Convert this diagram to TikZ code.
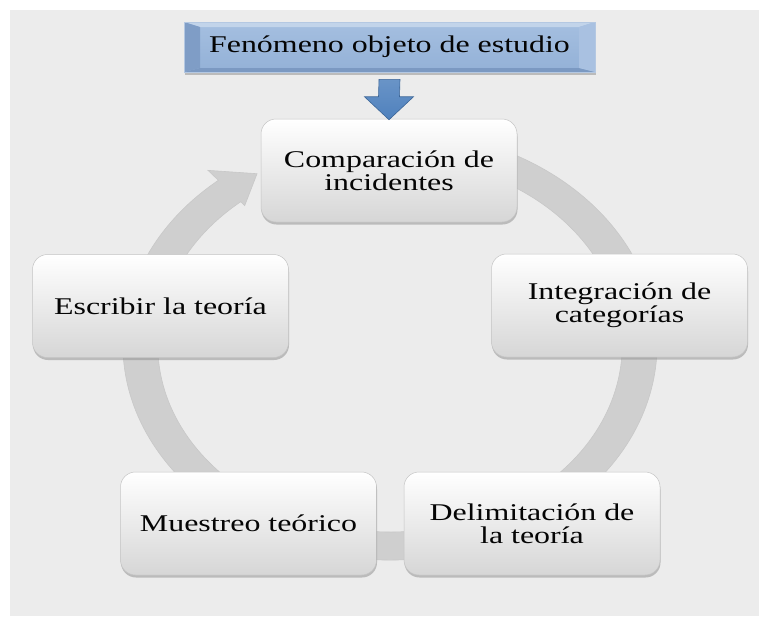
\documentclass[tikz,border=0pt]{standalone}
\usepackage{fontspec}
\setmainfont{Liberation Serif}[FakeStretch=1.33]
\usetikzlibrary{shadows,calc}
\definecolor{bg}{HTML}{ECECEC}
\definecolor{ringc}{HTML}{CFCFCF}
\definecolor{ringedge}{HTML}{C8C8C8}
\definecolor{boxbot}{HTML}{D6D6D6}
\definecolor{boxline}{HTML}{C4C4C4}
\definecolor{txt}{HTML}{050505}
\definecolor{facetop}{HTML}{A5BFE0}
\definecolor{facebot}{HTML}{93B1D7}
\definecolor{bevleft}{HTML}{7F9DC6}
\definecolor{bevright}{HTML}{A9C1E1}
\definecolor{bevtop}{HTML}{C2D4EA}
\definecolor{bevbot}{HTML}{7B99C2}
\definecolor{blueedge}{HTML}{B4C8E2}
\definecolor{arrowf}{HTML}{4F81BD}
\definecolor{arrowd}{HTML}{3B6597}
\tikzset{
  stagebox/.style={rounded corners=15pt, minimum width=256pt, minimum height=103pt,
    top color=white, bottom color=boxbot, draw=boxline, line width=0.5pt,
    align=center, font=\fontsize{24}{23}\selectfont, text=txt, inner sep=0pt,
    drop shadow={shadow xshift=0.5pt, shadow yshift=-2.5pt, opacity=0.5, fill=gray!90}},
  bevelbox/.style={minimum width=411pt, minimum height=50pt, inner sep=0pt,
    top color=facetop, bottom color=facebot, draw=blueedge, line width=0.6pt,
    font=\fontsize{24}{23}\selectfont, text=txt,
    drop shadow={shadow xshift=0.5pt, shadow yshift=-2.5pt, opacity=0.5, fill=gray!90},
    path picture={
      \coordinate (nw) at (path picture bounding box.north west);
      \coordinate (ne) at (path picture bounding box.north east);
      \coordinate (sw) at (path picture bounding box.south west);
      \coordinate (se) at (path picture bounding box.south east);
      \fill[bevtop] (nw) -- (ne) -- ($(ne)+(-16,5)$) -- ($(nw)+(16,5)$) -- cycle;
      \fill[bevbot] (sw) -- (se) -- ($(se)+(-16,-4)$) -- ($(sw)+(16,-4)$) -- cycle;
      \fill[bevleft] (nw) -- ($(nw)+(16,5)$) -- ($(sw)+(16,-4)$) -- (sw) -- cycle;
      \fill[bevright] (ne) -- ($(ne)+(-16,5)$) -- ($(se)+(-16,-4)$) -- (se) -- cycle;
    }},
  ringfill/.style={fill=ringc, draw=ringedge, line width=0.6pt},
  bluearrow/.style={top color=arrowf!85!white, bottom color=arrowf, draw=arrowd, line width=0.6pt, line join=miter},
}
\begin{document}
\begin{tikzpicture}[x=1pt,y=-1pt]
  \useasboundingbox (0,0) rectangle (759,616);
  \fill[bg] (10,10) rectangle (759,616);

  % circular arrow ring
  \begin{scope}[shift={(390,345)}, xscale=1.2419, yscale=-1]
    \path[ringfill] (75:215) arc[start angle=75, end angle=-230, radius=215]
      -- (130:228) -- (122:202) -- (130:182) -- (130:187)
      arc[start angle=-230, end angle=75, radius=187] -- cycle;
  \end{scope}

  % nodes
  \node[bevelbox] (top) at (389.5,47) {Fenómeno objeto de estudio};
  \node[stagebox] (comp) at (389,170.5) {Comparación de\\incidentes};
  \node[stagebox] (integ) at (619.5,305.5) {Integración de\\categorías};
  \node[stagebox] (escr) at (160.5,306) {Escribir la teoría};
  \node[stagebox] (muest) at (248.5,523.5) {Muestreo teórico};
  \node[stagebox] (delim) at (532,523.5) {Delimitación de\\la teoría};

  % blue arrow from top box to first stage
  \coordinate (as) at ($(top.south)+(0,7)$);
  \coordinate (at) at ($(comp.north)+(0,1)$);
  \path[bluearrow] ($(as)+(-10.5,0)$) -- ($(as)+(10.5,0)$) -- ($(at)+(10.5,-23)$)
    -- ($(at)+(24.5,-23)$) -- (at) -- ($(at)+(-24.5,-23)$) -- ($(at)+(-10.5,-23)$) -- cycle;
\end{tikzpicture}
\end{document}
